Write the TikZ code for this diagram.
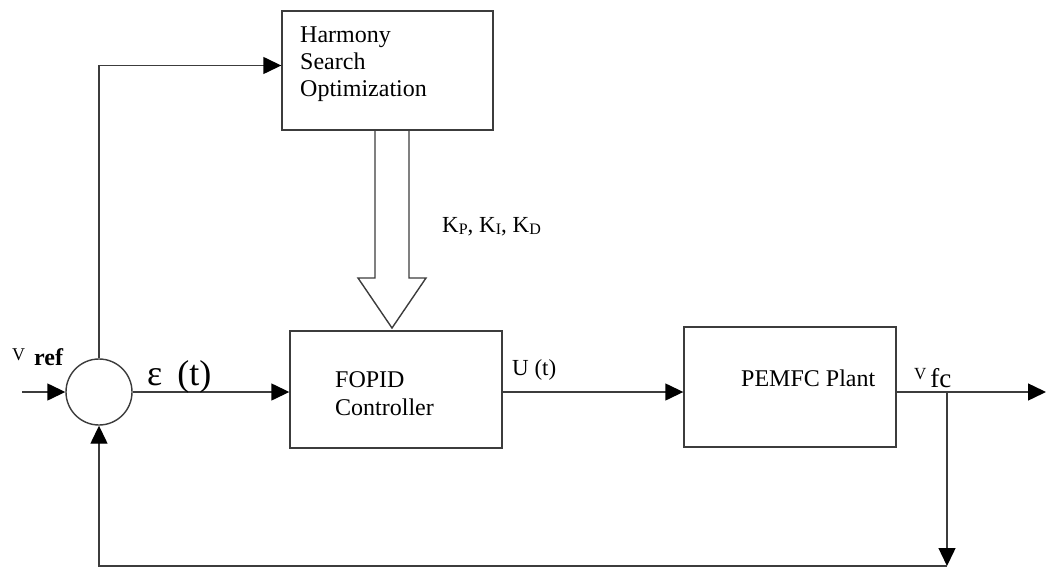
\documentclass[tikz,border=0pt]{standalone}
\usepackage{fontspec}
\setmainfont{Liberation Serif}
\usetikzlibrary{arrows.meta,positioning,calc}
\definecolor{lngray}{RGB}{60,60,60}

\begin{document}
\begin{tikzpicture}[
  x=1pt, y=-1pt,
  blk/.style={draw=lngray,line width=1.4pt,inner sep=0pt},
  wire/.style={draw=lngray,line width=1.4pt},
  sig/.style={wire,-{Triangle[length=18pt,width=17pt,color=black]}},
  txt/.style={inner sep=0pt,font=\fontsize{24}{28}\selectfont},
  lbl/.style={inner sep=0pt,anchor=base west,font=\fontsize{22}{24}\selectfont}
]
\useasboundingbox (0,0) rectangle (1046,567);
\node[blk,minimum width=211pt,minimum height=119pt] (hso) at (387.5,70.5) {};
\node[blk,circle,minimum size=66pt] (sum) at (99,392) {};
\node[blk,minimum width=212pt,minimum height=117pt] (fopid) at (396,389.5) {};
\node[blk,minimum width=212pt,minimum height=120pt] (plant) at (790,387) {};
\coordinate (vin) at (22,392);
\coordinate (vout) at (1046,392);
\coordinate (tap) at (947,392);
\coordinate (fb) at (947,566);
\coordinate (kin) at (392,130);
\coordinate (kout) at (392,328);

\node[txt,anchor=north west,align=left,font=\fontsize{24}{27}\selectfont] (hsotxt) at (300,27) {Harmony\\Search\\Optimization};
\node[txt,anchor=north west,align=left] (fopidtxt) at (335,371) {FOPID\\Controller};
\node[txt,anchor=base west] (planttxt) at (741,386) {PEMFC Plant};

\draw[sig] (vin) -- (sum.west);
\draw[sig] (sum.east) -- (sum.east -| fopid.west);
\draw[sig] (sum.east -| fopid.east) -- (sum.east -| plant.west);
\draw[sig] (sum.east -| plant.east) -- (vout);
\draw[sig] (sum.north) |- ($(hso.west)+(0,-5)$);
\draw[sig] (tap) -- (fb);
\draw[sig] (fb) -| (sum.south);
\draw[wire] ($(kin)+(-17,0)$) -- ++(0,148) -- ++(-17,0) -- (kout) -- ++(34,-50) -- ++(-17,0) -- ++(0,-148);

\node[lbl] (vref) at (12,365) {\raisebox{5pt}{\fontsize{18}{18}\selectfont V}\hspace{9pt}{\fontsize{24}{24}\selectfont\bfseries ref}};
\node[lbl,font=\fontsize{36}{38}\selectfont] (err) at (147,385) {ε\hspace{6pt} (t)};
\node[lbl,font=\fontsize{23}{24}\selectfont] (ut) at (512,375) {U (t)};
\node[lbl,font=\fontsize{23}{24}\selectfont] (kgain) at (442,232) {K\raisebox{-2pt}{\fontsize{16}{16}\selectfont P}, K\raisebox{-2pt}{\fontsize{16}{16}\selectfont I}, K\raisebox{-2pt}{\fontsize{16}{16}\selectfont D}};
\node[lbl,font=\fontsize{27}{28}\selectfont] (vfc) at (914,387) {\raisebox{8pt}{\fontsize{17}{17}\selectfont V}\hspace{4pt}fc};
\end{tikzpicture}
\end{document}
